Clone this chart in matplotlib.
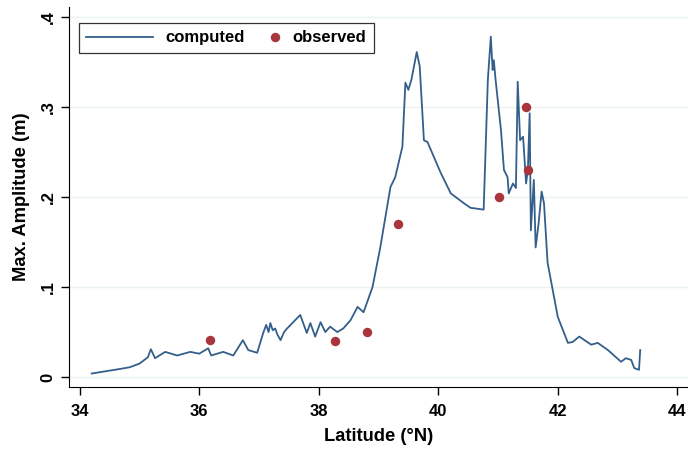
import matplotlib.pyplot as plt
from matplotlib.legend_handler import HandlerLine2D

# computed max. amplitude along the coast
lat_comp = [34.2, 34.67, 34.84, 35.0, 35.14, 35.19, 35.26, 35.43, 35.63, 35.85, 36.0, 36.15, 36.2,
            36.4, 36.57, 36.73, 36.82, 36.97, 37.07, 37.12, 37.16, 37.19, 37.23, 37.27, 37.31, 37.36,
            37.42, 37.47, 37.69, 37.8, 37.86,
            37.94, 38.03, 38.11, 38.19, 38.31, 38.41, 38.53, 38.65, 38.75, 38.9, 39.03, 39.2, 39.28,
            39.4, 39.45, 39.5, 39.55, 39.64, 39.69, 39.76, 39.82, 40.04, 40.21, 40.43, 40.54, 40.76,
            40.83, 40.88, 40.91, 40.93, 40.96, 41.05, 41.1, 41.16, 41.18, 41.25, 41.3, 41.33, 41.37,
            41.42, 41.47, 41.5, 41.53, 41.55, 41.6, 41.63, 41.68, 41.73, 41.77, 41.83, 42.0, 42.17,
            42.25, 42.36, 42.56, 42.67, 42.84, 43.06, 43.14, 43.23, 43.28, 43.36, 43.38]
amp_comp = [0.004, 0.009, 0.011, 0.015, 0.022, 0.031, 0.021, 0.028, 0.024, 0.028, 0.026, 0.032, 0.024,
            0.028, 0.024, 0.041, 0.030, 0.027, 0.049, 0.058, 0.050, 0.060, 0.052, 0.054, 0.047, 0.041,
            0.050, 0.054, 0.069, 0.049, 0.060,
            0.045, 0.061, 0.050, 0.056, 0.050, 0.054, 0.063, 0.078, 0.072, 0.100, 0.144, 0.211, 0.222,
            0.256, 0.327, 0.319, 0.330, 0.361, 0.345, 0.263, 0.261, 0.227, 0.204, 0.193, 0.188, 0.186,
            0.330, 0.378, 0.341, 0.352, 0.330, 0.274, 0.230, 0.222, 0.204, 0.215, 0.210, 0.328, 0.263,
            0.267, 0.215, 0.230, 0.293, 0.163, 0.219, 0.144, 0.171, 0.206, 0.193, 0.127, 0.067, 0.038,
            0.039, 0.045, 0.036, 0.038, 0.030, 0.017, 0.021, 0.019, 0.010, 0.008, 0.030]

# observed values (tide gauges)
lat_obs = [36.18, 38.27, 38.80, 39.33, 41.02, 41.47, 41.50]
amp_obs = [0.041, 0.040, 0.050, 0.170, 0.200, 0.300, 0.230]


class MarkerRight(HandlerLine2D):
    # put the legend marker at the right end of its handle box
    def create_artists(self, legend, orig_handle, xdescent, ydescent, width, height, fontsize, trans):
        arts = super().create_artists(legend, orig_handle, xdescent, ydescent,
                                      width, height, fontsize, trans)
        xm = width - xdescent - 0.3 * fontsize
        for a in arts:
            a.set_xdata([xm] * len(a.get_xdata()))
        return arts


plt.rcParams['font.family'] = ['Liberation Sans', 'DejaVu Sans']
plt.rcParams['font.weight'] = 'bold'

fig = plt.figure(figsize=(6.88, 4.55), dpi=100)
ax = fig.add_axes([69 / 688, 1 - 387 / 455, 619 / 688, 380 / 455])

ax.plot(lat_comp, amp_comp, color='#345F8A', lw=1.3, label='computed')
obs, = ax.plot(lat_obs, amp_obs, 'o', color='#A8343C', ms=6.8, mec='none', label='observed')

ax.set_xlim(33.82, 44.18)
ax.set_ylim(-0.011, 0.411)
ax.set_xticks([34, 36, 38, 40, 42, 44])
ax.set_yticks([0, 0.1, 0.2, 0.3, 0.4])
ax.set_yticklabels(['0', '.1', '.2', '.3', '.4'], rotation=90, va='center')
ax.tick_params(labelsize=12, length=6, width=1)
ax.tick_params(axis='x', pad=6)
ax.grid(axis='y', color='#EAF2F3', lw=1)
ax.set_axisbelow(True)
for s in ['top', 'right']:
    ax.spines[s].set_visible(False)

ax.set_xlabel('Latitude (°N)', fontsize=13.2, fontweight='bold', labelpad=7)
ax.set_ylabel('Max. Amplitude (m)', fontsize=13.2, fontweight='bold', labelpad=8)

leg = ax.legend(loc='upper left', bbox_to_anchor=(0.016, 0.958), ncol=2, fontsize=12,
                frameon=True, fancybox=False, edgecolor='black', handlelength=4.0,
                handletextpad=0.75, columnspacing=-1.9, borderpad=0.45, borderaxespad=0,
                handler_map={obs: MarkerRight()})
leg.get_frame().set_linewidth(0.9)

fig.savefig('out.png', dpi=100)
